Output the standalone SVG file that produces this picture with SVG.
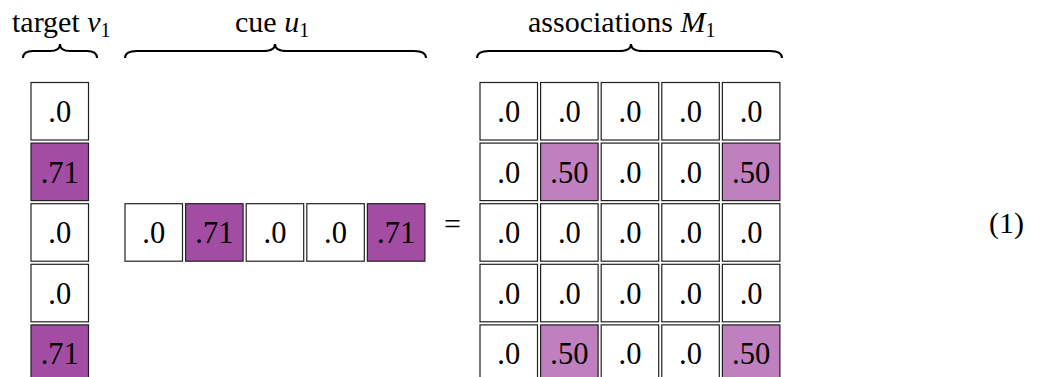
<svg xmlns="http://www.w3.org/2000/svg" width="1037" height="377" viewBox="0 0 1037 377">
<style>
.c{stroke:#222;stroke-width:1.2;fill:#fff}
.p{fill:#a34ca3}
.l{fill:#c080c0}
.t{font-family:"Liberation Serif","Times New Roman",serif;font-size:30.5px;fill:#000;text-anchor:middle}
.lab{font-family:"Liberation Serif","Times New Roman",serif;font-size:30px;fill:#000}
.i{font-style:italic}
.s{font-size:20px}
.b{fill:none;stroke:#000;stroke-width:2}
</style>
<g id="labels">
<text class="lab" x="12" y="32">target <tspan class="i">v</tspan><tspan class="s" dy="5">1</tspan></text>
<text class="lab" x="235" y="32">cue <tspan class="i">u</tspan><tspan class="s" dy="5">1</tspan></text>
<text class="lab" x="528" y="32">associations <tspan class="i">M</tspan><tspan class="s" dy="5">1</tspan></text>
<text class="lab" x="989" y="233">(1)</text>
<text class="lab" x="444" y="234">=</text>
</g>
<g id="braces">
<path class="b" d="M23,58 Q23,51 33,51 L50,51 Q60,51 60,44 Q60,51 70,51 L87,51 Q97,51 97,58"/>
<path class="b" d="M125,58 Q125,51 137,51 L263,51 Q275,51 275,44 Q275,51 287,51 L414,51 Q426,51 426,58"/>
<path class="b" d="M477,58 Q477,51 489,51 L619,51 Q631,51 631,44 Q631,51 643,51 L770,51 Q782,51 782,58"/>
</g>
<g id="target">
<rect class="c" x="31" y="82.5" width="57.5" height="57.5"/><text class="t" x="59.75" y="122">.0</text>
<rect class="c p" x="31" y="143.1" width="57.5" height="57.5"/><text class="t" x="59.75" y="182.6">.71</text>
<rect class="c" x="31" y="203.7" width="57.5" height="57.5"/><text class="t" x="59.75" y="243.2">.0</text>
<rect class="c" x="31" y="264.3" width="57.5" height="57.5"/><text class="t" x="59.75" y="303.8">.0</text>
<rect class="c p" x="31" y="324.9" width="57.5" height="57.5"/><text class="t" x="59.75" y="364.4">.71</text>
</g>
<g id="cue">
<rect class="c" x="125" y="203.7" width="57.5" height="57.5"/><text class="t" x="153.75" y="243.2">.0</text>
<rect class="c p" x="185.6" y="203.7" width="57.5" height="57.5"/><text class="t" x="214.35" y="243.2">.71</text>
<rect class="c" x="246.2" y="203.7" width="57.5" height="57.5"/><text class="t" x="274.95" y="243.2">.0</text>
<rect class="c" x="306.8" y="203.7" width="57.5" height="57.5"/><text class="t" x="335.55" y="243.2">.0</text>
<rect class="c p" x="367.4" y="203.7" width="57.5" height="57.5"/><text class="t" x="396.15" y="243.2">.71</text>
</g>
<g id="matrix">
<g id="row1">
<rect class="c" x="480" y="82.5" width="57.5" height="57.5"/><text class="t" x="508.75" y="122">.0</text>
<rect class="c" x="540.6" y="82.5" width="57.5" height="57.5"/><text class="t" x="569.35" y="122">.0</text>
<rect class="c" x="601.2" y="82.5" width="57.5" height="57.5"/><text class="t" x="629.95" y="122">.0</text>
<rect class="c" x="661.8" y="82.5" width="57.5" height="57.5"/><text class="t" x="690.55" y="122">.0</text>
<rect class="c" x="722.4" y="82.5" width="57.5" height="57.5"/><text class="t" x="751.15" y="122">.0</text>
</g>
<g id="row2">
<rect class="c" x="480" y="143.1" width="57.5" height="57.5"/><text class="t" x="508.75" y="182.6">.0</text>
<rect class="c l" x="540.6" y="143.1" width="57.5" height="57.5"/><text class="t" x="569.35" y="182.6">.50</text>
<rect class="c" x="601.2" y="143.1" width="57.5" height="57.5"/><text class="t" x="629.95" y="182.6">.0</text>
<rect class="c" x="661.8" y="143.1" width="57.5" height="57.5"/><text class="t" x="690.55" y="182.6">.0</text>
<rect class="c l" x="722.4" y="143.1" width="57.5" height="57.5"/><text class="t" x="751.15" y="182.6">.50</text>
</g>
<g id="row3">
<rect class="c" x="480" y="203.7" width="57.5" height="57.5"/><text class="t" x="508.75" y="243.2">.0</text>
<rect class="c" x="540.6" y="203.7" width="57.5" height="57.5"/><text class="t" x="569.35" y="243.2">.0</text>
<rect class="c" x="601.2" y="203.7" width="57.5" height="57.5"/><text class="t" x="629.95" y="243.2">.0</text>
<rect class="c" x="661.8" y="203.7" width="57.5" height="57.5"/><text class="t" x="690.55" y="243.2">.0</text>
<rect class="c" x="722.4" y="203.7" width="57.5" height="57.5"/><text class="t" x="751.15" y="243.2">.0</text>
</g>
<g id="row4">
<rect class="c" x="480" y="264.3" width="57.5" height="57.5"/><text class="t" x="508.75" y="303.8">.0</text>
<rect class="c" x="540.6" y="264.3" width="57.5" height="57.5"/><text class="t" x="569.35" y="303.8">.0</text>
<rect class="c" x="601.2" y="264.3" width="57.5" height="57.5"/><text class="t" x="629.95" y="303.8">.0</text>
<rect class="c" x="661.8" y="264.3" width="57.5" height="57.5"/><text class="t" x="690.55" y="303.8">.0</text>
<rect class="c" x="722.4" y="264.3" width="57.5" height="57.5"/><text class="t" x="751.15" y="303.8">.0</text>
</g>
<g id="row5">
<rect class="c" x="480" y="324.9" width="57.5" height="57.5"/><text class="t" x="508.75" y="364.4">.0</text>
<rect class="c l" x="540.6" y="324.9" width="57.5" height="57.5"/><text class="t" x="569.35" y="364.4">.50</text>
<rect class="c" x="601.2" y="324.9" width="57.5" height="57.5"/><text class="t" x="629.95" y="364.4">.0</text>
<rect class="c" x="661.8" y="324.9" width="57.5" height="57.5"/><text class="t" x="690.55" y="364.4">.0</text>
<rect class="c l" x="722.4" y="324.9" width="57.5" height="57.5"/><text class="t" x="751.15" y="364.4">.50</text>
</g>
</g>
</svg>
